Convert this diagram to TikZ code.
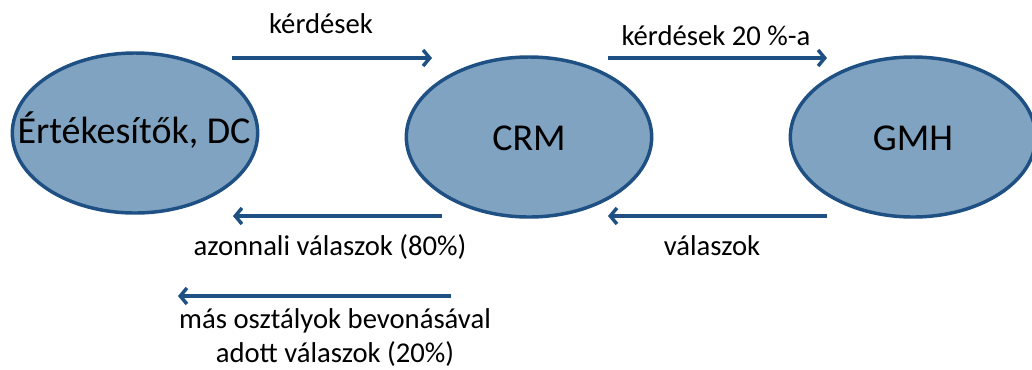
\documentclass[tikz,border=0pt]{standalone}
\usepackage{fontspec}
\setmainfont{Carlito}
\usetikzlibrary{arrows.meta,shapes,positioning}

\definecolor{unitfill}{RGB}{128,163,193}
\definecolor{unitline}{RGB}{30,80,132}

\tikzset{
  unit/.style={ellipse,draw=unitline,line width=2.6pt,fill=unitfill,
    minimum width=184pt,minimum height=120pt,inner sep=0pt},
  unittext/.style={font=\fontsize{28.5}{34}\selectfont,anchor=base,inner sep=0pt},
  flow/.style={-{Straight Barb[length=5pt,width=12pt,line width=2.6pt]},draw=unitline,line width=2.8pt},
  lbl/.style={font=\fontsize{21.5}{25.5}\selectfont,anchor=base,inner sep=0pt,align=center}
}

\begin{document}
\begin{tikzpicture}[x=0.75pt,y=-0.75pt]
\useasboundingbox (0,0) rectangle (1032,369);

% Units
\node[unit] (sales) at (135,133) {};
\node[unit] (crm) at (529,137) {};
\node[unit] (gmh) at (913,137) {};
\node[unittext] (salestext) at (134,143) {Értékesítők, DC};
\node[unittext] (crmtext) at (529,150) {CRM};
\node[unittext] (gmhtext) at (913,150) {GMH};

% Arrow ends
\coordinate (q1a) at (232,58);
\coordinate (q1b) at (432,58);
\coordinate (q2a) at (608,58);
\coordinate (q2b) at (827,58);
\coordinate (r1a) at (442,216);
\coordinate (r1b) at (233,216);
\coordinate (r2a) at (827,216);
\coordinate (r2b) at (608,216);
\coordinate (r3a) at (451,296);
\coordinate (r3b) at (178,296);

% Flows
\draw[flow] (q1a) -- (q1b);
\draw[flow] (q2a) -- (q2b);
\draw[flow] (r1a) -- (r1b);
\draw[flow] (r2a) -- (r2b);
\draw[flow] (r3a) -- (r3b);

% Labels
\node[lbl] (q1lbl) at (321,33) {kérdések};
\node[lbl] (q2lbl) at (716,45) {kérdések 20 \%-a};
\node[lbl] (r1lbl) at (330,255) {azonnali válaszok (80\%)};
\node[lbl] (r2lbl) at (712,255) {válaszok};
\node[lbl] (r3lbl) at (335,362) {más osztályok bevonásával\\adott válaszok (20\%)};
\end{tikzpicture}
\end{document}
